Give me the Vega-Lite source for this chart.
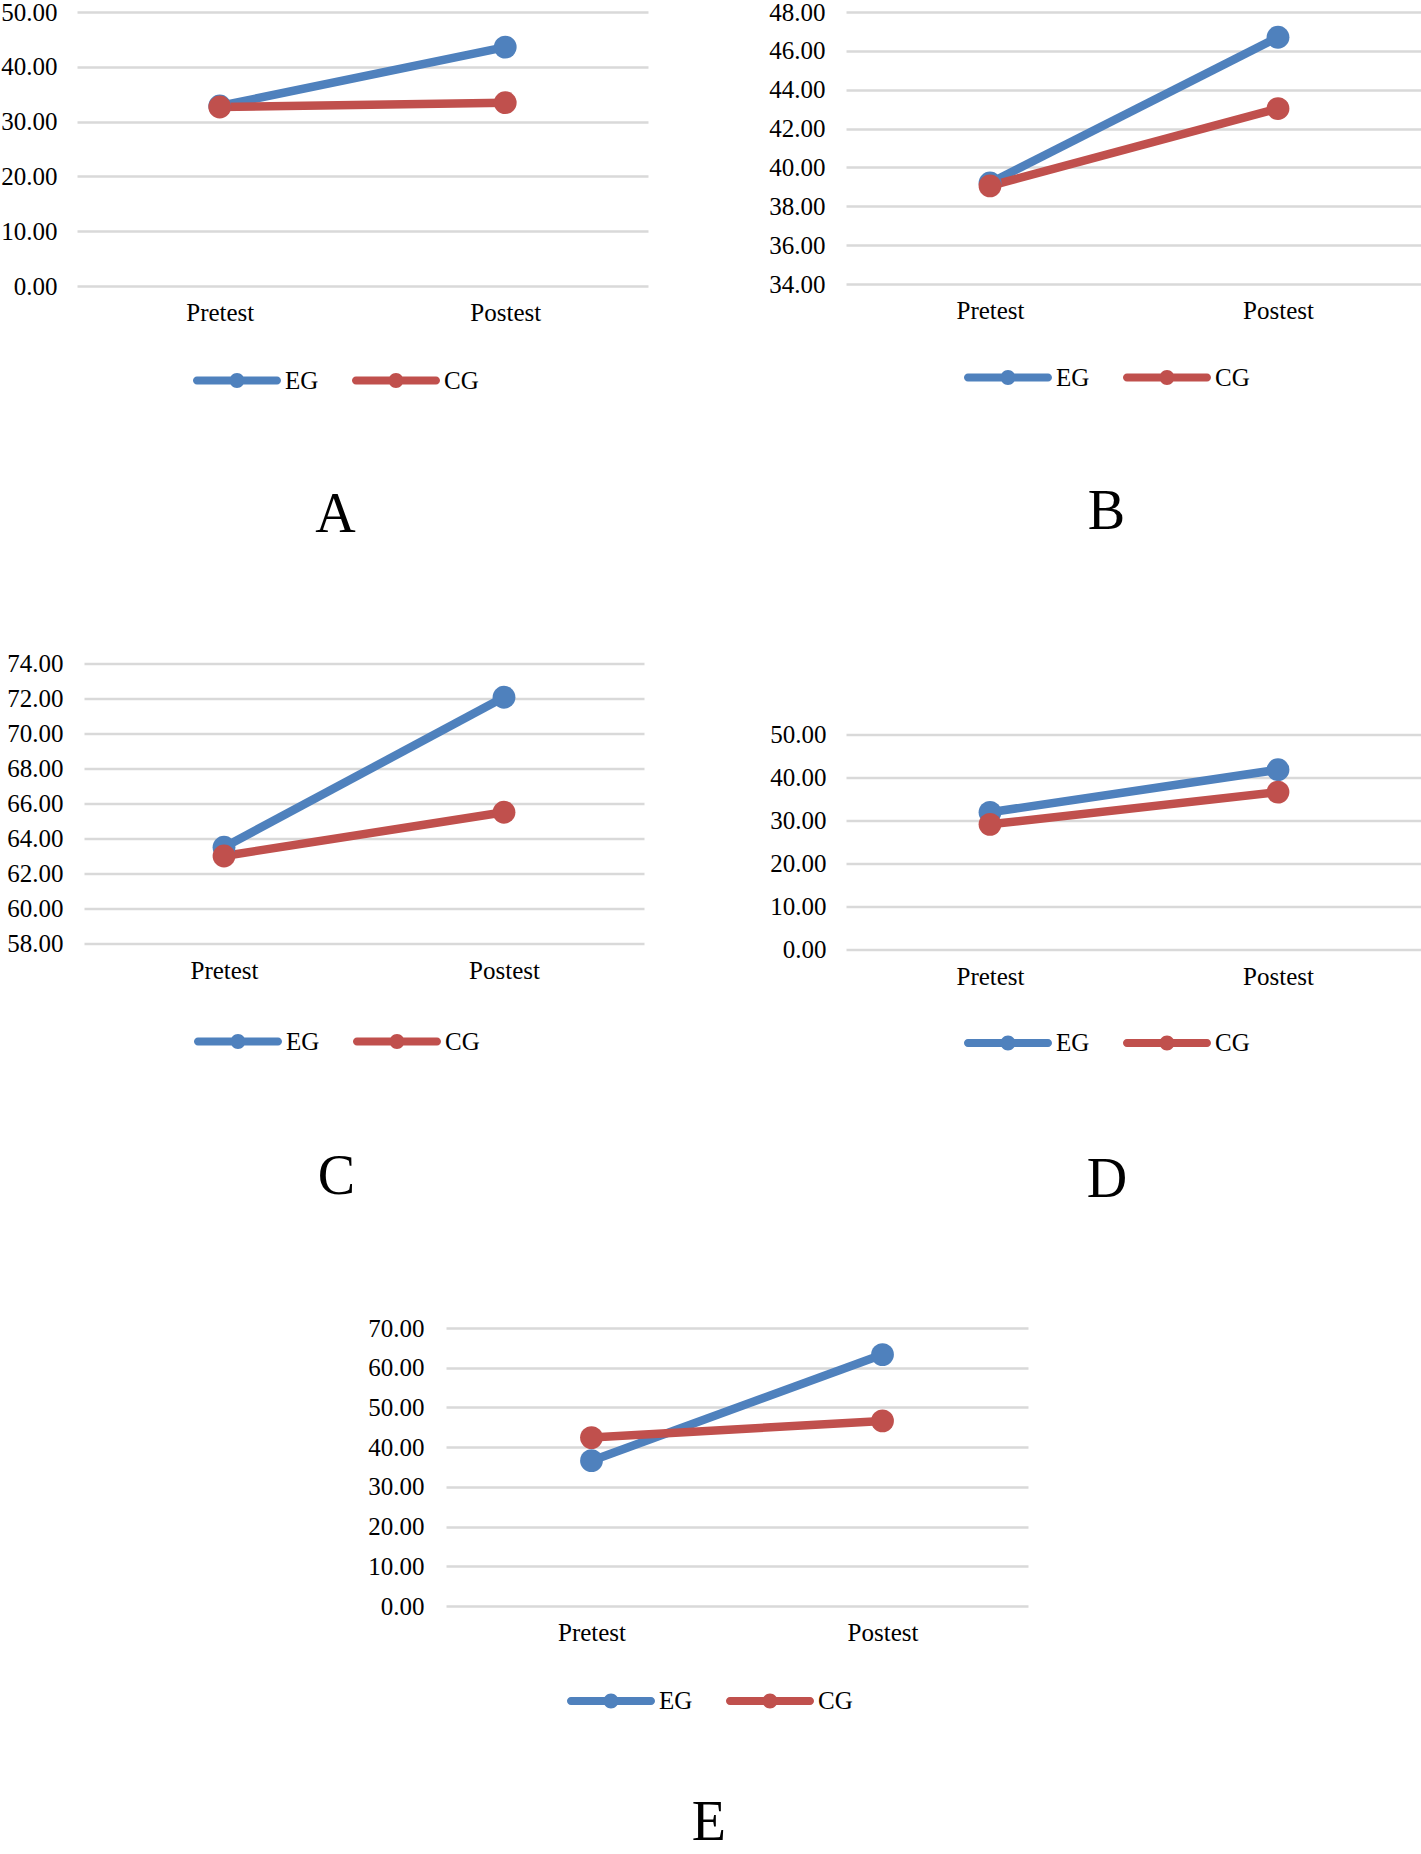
{
  "$schema": "https://vega.github.io/schema/vega-lite/v6.json",
  "padding": 0,
  "background": "white",
  "datasets": {
    "A": [
      {"test": "Pretest", "group": "EG", "score": 32.85},
      {"test": "Postest", "group": "EG", "score": 43.6},
      {"test": "Pretest", "group": "CG", "score": 32.66},
      {"test": "Postest", "group": "CG", "score": 33.45}
    ],
    "B": [
      {"test": "Pretest", "group": "EG", "score": 39.2},
      {"test": "Postest", "group": "EG", "score": 46.7},
      {"test": "Pretest", "group": "CG", "score": 39.05},
      {"test": "Postest", "group": "CG", "score": 43.03}
    ],
    "C": [
      {"test": "Pretest", "group": "EG", "score": 63.5},
      {"test": "Postest", "group": "EG", "score": 72.07},
      {"test": "Pretest", "group": "CG", "score": 63.0},
      {"test": "Postest", "group": "CG", "score": 65.5}
    ],
    "D": [
      {"test": "Pretest", "group": "EG", "score": 31.9},
      {"test": "Postest", "group": "EG", "score": 41.8},
      {"test": "Pretest", "group": "CG", "score": 29.1},
      {"test": "Postest", "group": "CG", "score": 36.6}
    ],
    "E": [
      {"test": "Pretest", "group": "EG", "score": 36.6},
      {"test": "Postest", "group": "EG", "score": 63.3},
      {"test": "Pretest", "group": "CG", "score": 42.4},
      {"test": "Postest", "group": "CG", "score": 46.6}
    ],
    "blank": []
  },
  "config": {
    "font": "Liberation Serif",
    "view": {"stroke": null},
    "axis": {"labelFont": "Liberation Serif", "labelFontSize": 25, "labelColor": "#000000", "domain": false, "ticks": false, "tickSize": 0},
    "axisY": {"gridColor": "#D9D9D9", "gridWidth": 2.5, "gridOpacity": 1},
    "axisX": {"grid": false, "labelPadding": 14.5, "labelAngle": 0},
    "legend": {"labelFont": "Liberation Serif", "labelFontSize": 25, "labelColor": "#000000", "labelOffset": 4, "columnPadding": 33, "padding": 0, "symbolStrokeWidth": 0},
    "title": {"font": "Liberation Serif", "fontSize": 56, "fontWeight": "normal", "color": "#000000"}
  },
  "spacing": 108.5,
  "resolve": {"scale": {"color": "independent"}, "legend": {"color": "independent"}},
  "vconcat": [
    {
      "hconcat": [
        {
          "width": 571, "height": 274,
          "data": {"name": "A"},
          "title": {"text": "A", "orient": "bottom", "anchor": "middle", "frame": "bounds", "offset": 94, "dx": 11},
          "encoding": {
            "x": {"field": "test", "type": "ordinal", "sort": ["Pretest", "Postest"], "scale": {"type": "point", "padding": 0.5}, "axis": {"title": null}},
            "y": {"field": "score", "type": "quantitative", "scale": {"domain": [0, 50], "nice": false, "zero": false}, "axis": {"title": null, "values": [0, 10, 20, 30, 40, 50], "format": ".2f", "labelPadding": 20}},
            "color": {"field": "group", "type": "nominal", "scale": {"domain": ["EG", "CG"], "range": ["#4F81BD", "#C0504D"]},
              "legend": {"title": null, "orient": "none", "direction": "horizontal", "legendX": 116, "legendY": 324.5, "symbolSize": 7744,
                "symbolType": "M-0.91,-0.09L-0.12,-0.09L-0.12,0.09L-0.91,0.09A0.09,0.09 0 0,1 -0.91,-0.09Z M0.12,-0.09L0.91,-0.09A0.09,0.09 0 0,1 0.91,0.09L0.12,0.09Z M0.17,0A0.17,0.17 0 1,1 -0.17,0A0.17,0.17 0 1,1 0.17,0Z",
                "encode": {"symbols": {"update": {"fill": {"signal": "datum.value === 'EG' ? '#4F81BD' : '#C0504D'"}, "stroke": {"value": "transparent"}, "opacity": {"value": 1}}}}}}
          },
          "layer": [
            {"mark": {"type": "line", "strokeWidth": 8.5}},
            {"mark": {"type": "point", "filled": true, "size": 520, "opacity": 1, "strokeWidth": 0}}
          ]
        },
        {
          "width": 576, "height": 272,
          "data": {"name": "B"},
          "title": {"text": "B", "orient": "bottom", "anchor": "middle", "frame": "bounds", "offset": 94, "dx": 11},
          "encoding": {
            "x": {"field": "test", "type": "ordinal", "sort": ["Pretest", "Postest"], "scale": {"type": "point", "padding": 0.5}, "axis": {"title": null}},
            "y": {"field": "score", "type": "quantitative", "scale": {"domain": [34, 48], "nice": false, "zero": false}, "axis": {"title": null, "values": [34, 36, 38, 40, 42, 44, 46, 48], "format": ".2f", "labelPadding": 21}},
            "color": {"field": "group", "type": "nominal", "scale": {"domain": ["EG", "CG"], "range": ["#4F81BD", "#C0504D"]},
              "legend": {"title": null, "orient": "none", "direction": "horizontal", "legendX": 118, "legendY": 321.5, "symbolSize": 7744,
                "symbolType": "M-0.91,-0.09L-0.12,-0.09L-0.12,0.09L-0.91,0.09A0.09,0.09 0 0,1 -0.91,-0.09Z M0.12,-0.09L0.91,-0.09A0.09,0.09 0 0,1 0.91,0.09L0.12,0.09Z M0.17,0A0.17,0.17 0 1,1 -0.17,0A0.17,0.17 0 1,1 0.17,0Z",
                "encode": {"symbols": {"update": {"fill": {"signal": "datum.value === 'EG' ? '#4F81BD' : '#C0504D'"}, "stroke": {"value": "transparent"}, "opacity": {"value": 1}}}}}}
          },
          "layer": [
            {"mark": {"type": "line", "strokeWidth": 8.5}},
            {"mark": {"type": "point", "filled": true, "size": 520, "opacity": 1, "strokeWidth": 0}}
          ]
        }
      ],
      "spacing": 198,
      "bounds": "flush",
      "resolve": {"scale": {"color": "independent"}, "legend": {"color": "independent"}}
    },
    {
      "hconcat": [
        {
          "width": 1, "height": 10,
          "data": {"name": "blank"},
          "mark": {"type": "point", "opacity": 0},
          "encoding": {}
        },
        {
          "width": 560, "height": 280,
          "data": {"name": "C"},
          "title": {"text": "C", "orient": "bottom", "anchor": "middle", "frame": "bounds", "offset": 95, "dx": 11},
          "encoding": {
            "x": {"field": "test", "type": "ordinal", "sort": ["Pretest", "Postest"], "scale": {"type": "point", "padding": 0.5}, "axis": {"title": null}},
            "y": {"field": "score", "type": "quantitative", "scale": {"domain": [58, 74], "nice": false, "zero": false}, "axis": {"title": null, "values": [58, 60, 62, 64, 66, 68, 70, 72, 74], "format": ".2f", "labelPadding": 21}},
            "color": {"field": "group", "type": "nominal", "scale": {"domain": ["EG", "CG"], "range": ["#4F81BD", "#C0504D"]},
              "legend": {"title": null, "orient": "none", "direction": "horizontal", "legendX": 110, "legendY": 334, "symbolSize": 7744,
                "symbolType": "M-0.91,-0.09L-0.12,-0.09L-0.12,0.09L-0.91,0.09A0.09,0.09 0 0,1 -0.91,-0.09Z M0.12,-0.09L0.91,-0.09A0.09,0.09 0 0,1 0.91,0.09L0.12,0.09Z M0.17,0A0.17,0.17 0 1,1 -0.17,0A0.17,0.17 0 1,1 0.17,0Z",
                "encode": {"symbols": {"update": {"fill": {"signal": "datum.value === 'EG' ? '#4F81BD' : '#C0504D'"}, "stroke": {"value": "transparent"}, "opacity": {"value": 1}}}}}}
          },
          "layer": [
            {"mark": {"type": "line", "strokeWidth": 8.5}},
            {"mark": {"type": "point", "filled": true, "size": 520, "opacity": 1, "strokeWidth": 0}}
          ]
        },
        {
          "width": 190, "height": 10,
          "data": {"name": "blank"},
          "mark": {"type": "point", "opacity": 0},
          "encoding": {}
        },
        {
          "width": 576, "height": 286,
          "data": {"name": "D"},
          "title": {"text": "D", "orient": "bottom", "anchor": "middle", "frame": "bounds", "offset": 96.5, "dx": 11},
          "encoding": {
            "x": {"field": "test", "type": "ordinal", "sort": ["Pretest", "Postest"], "scale": {"type": "point", "padding": 0.5}, "axis": {"title": null}},
            "y": {"field": "score", "type": "quantitative", "scale": {"domain": [0, 66.5], "nice": false, "zero": false}, "axis": {"title": null, "values": [0, 10, 20, 30, 40, 50], "format": ".2f", "labelPadding": 20}},
            "color": {"field": "group", "type": "nominal", "scale": {"domain": ["EG", "CG"], "range": ["#4F81BD", "#C0504D"]},
              "legend": {"title": null, "orient": "none", "direction": "horizontal", "legendX": 118, "legendY": 335.5, "symbolSize": 7744,
                "symbolType": "M-0.91,-0.09L-0.12,-0.09L-0.12,0.09L-0.91,0.09A0.09,0.09 0 0,1 -0.91,-0.09Z M0.12,-0.09L0.91,-0.09A0.09,0.09 0 0,1 0.91,0.09L0.12,0.09Z M0.17,0A0.17,0.17 0 1,1 -0.17,0A0.17,0.17 0 1,1 0.17,0Z",
                "encode": {"symbols": {"update": {"fill": {"signal": "datum.value === 'EG' ? '#4F81BD' : '#C0504D'"}, "stroke": {"value": "transparent"}, "opacity": {"value": 1}}}}}}
          },
          "layer": [
            {"mark": {"type": "line", "strokeWidth": 8.5}},
            {"mark": {"type": "point", "filled": true, "size": 520, "opacity": 1, "strokeWidth": 0}}
          ]
        }
      ],
      "spacing": 6,
      "bounds": "flush",
      "resolve": {"scale": {"color": "independent"}, "legend": {"color": "independent"}}
    },
    {
      "hconcat": [
        {
          "width": 100, "height": 10,
          "data": {"name": "blank"},
          "mark": {"type": "point", "opacity": 0},
          "encoding": {}
        },
        {
          "width": 582, "height": 278,
          "data": {"name": "E"},
          "title": {"text": "E", "orient": "bottom", "anchor": "middle", "frame": "bounds", "offset": 82, "dx": 11},
          "encoding": {
            "x": {"field": "test", "type": "ordinal", "sort": ["Pretest", "Postest"], "scale": {"type": "point", "padding": 0.5}, "axis": {"title": null}},
            "y": {"field": "score", "type": "quantitative", "scale": {"domain": [0, 70], "nice": false, "zero": false}, "axis": {"title": null, "values": [0, 10, 20, 30, 40, 50, 60, 70], "format": ".2f", "labelPadding": 22}},
            "color": {"field": "group", "type": "nominal", "scale": {"domain": ["EG", "CG"], "range": ["#4F81BD", "#C0504D"]},
              "legend": {"title": null, "orient": "none", "direction": "horizontal", "legendX": 121, "legendY": 329, "symbolSize": 7744,
                "symbolType": "M-0.91,-0.09L-0.12,-0.09L-0.12,0.09L-0.91,0.09A0.09,0.09 0 0,1 -0.91,-0.09Z M0.12,-0.09L0.91,-0.09A0.09,0.09 0 0,1 0.91,0.09L0.12,0.09Z M0.17,0A0.17,0.17 0 1,1 -0.17,0A0.17,0.17 0 1,1 0.17,0Z",
                "encode": {"symbols": {"update": {"fill": {"signal": "datum.value === 'EG' ? '#4F81BD' : '#C0504D'"}, "stroke": {"value": "transparent"}, "opacity": {"value": 1}}}}}}
          },
          "layer": [
            {"mark": {"type": "line", "strokeWidth": 8.5}},
            {"mark": {"type": "point", "filled": true, "size": 520, "opacity": 1, "strokeWidth": 0}}
          ]
        }
      ],
      "spacing": 269,
      "bounds": "flush",
      "resolve": {"scale": {"color": "independent"}, "legend": {"color": "independent"}}
    }
  ]
}
